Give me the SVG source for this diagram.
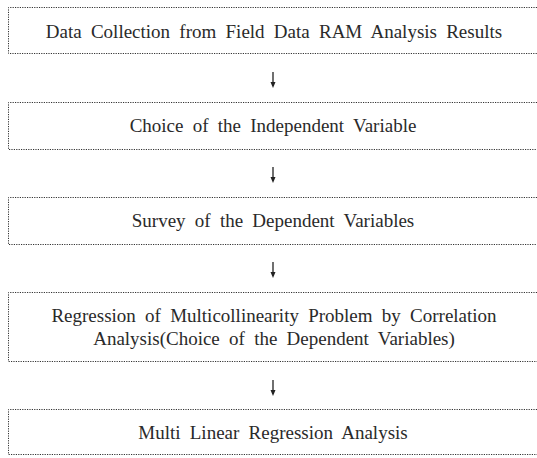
<svg xmlns="http://www.w3.org/2000/svg" width="537" height="458" viewBox="0 0 537 458">
<style>
.box{fill:none;stroke:#333;stroke-width:1;stroke-dasharray:1.2 1.2}
.t{font-family:"Liberation Serif","Times New Roman",serif;font-size:19px;fill:#2a2a2a;text-anchor:middle;word-spacing:4.5px}
.c{stroke:#222;stroke-width:1.3}
.h{fill:#222}
</style>
<g id="connectors">
<line class="c" x1="273" y1="72" x2="273" y2="86"/>
<path class="h" d="M270.5,82 L273,88 L275.5,82 Z"/>
<line class="c" x1="273" y1="167" x2="273" y2="181"/>
<path class="h" d="M270.5,177 L273,183 L275.5,177 Z"/>
<line class="c" x1="273" y1="262" x2="273" y2="276"/>
<path class="h" d="M270.5,272 L273,278 L275.5,272 Z"/>
<line class="c" x1="273" y1="380" x2="273" y2="394"/>
<path class="h" d="M270.5,390 L273,396 L275.5,390 Z"/>
</g>
<g id="n1">
<path class="box" d="M537,7.5 H8.5 V53.5 H537"/>
<text class="t" x="274" y="38">Data Collection from Field Data RAM Analysis Results</text>
</g>
<g id="n2">
<path class="box" d="M537,102.5 H8.5 V149.5 H537"/>
<text class="t" x="273" y="132">Choice of the Independent Variable</text>
</g>
<g id="n3">
<path class="box" d="M537,197.5 H8.5 V244.5 H537"/>
<text class="t" x="273" y="227">Survey of the Dependent Variables</text>
</g>
<g id="n4">
<path class="box" d="M537,292.5 H8.5 V361.5 H537"/>
<text class="t" x="274" y="322">Regression of Multicollinearity Problem by Correlation</text>
<text class="t" x="274" y="345">Analysis(Choice of the Dependent Variables)</text>
</g>
<g id="n5">
<path class="box" d="M537,409.5 H8.5 V454.5 H537"/>
<text class="t" x="273" y="439">Multi Linear Regression Analysis</text>
</g>
</svg>
